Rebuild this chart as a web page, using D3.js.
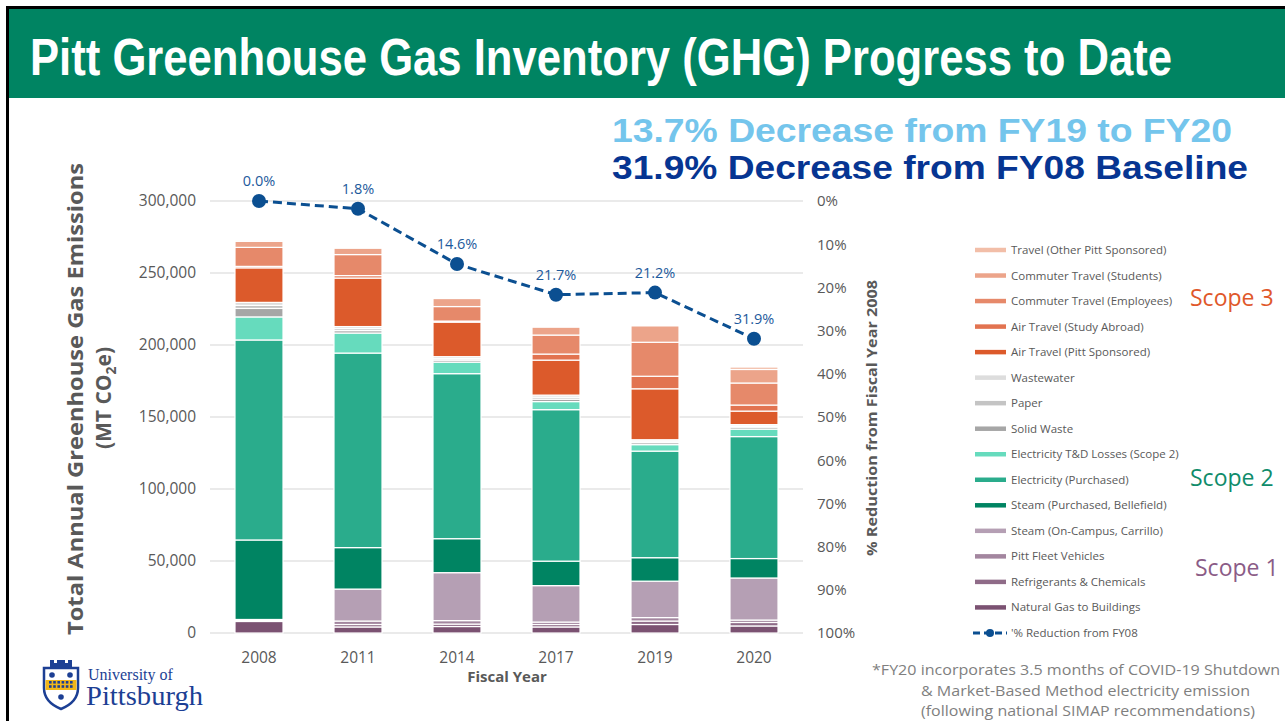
<!DOCTYPE html>
<html>
<head>
<meta charset="utf-8">
<script src="https://cdn.jsdelivr.net/npm/d3@7"></script>
<style>
  body { margin: 0; background: #fff; }
  svg { display: block; }
</style>
</head>
<body>
<svg id="chart" width="1285" height="721"></svg>
<script>
// Fiscal years on the x axis
const years = ['2008', '2011', '2014', '2017', '2019', '2020'];

// Emissions per source (MT CO2e), bottom of the stack first
const naturalGas        = [8000, 4200, 4500, 4200, 5900, 4900];
const refrigerants      = [700, 1700, 1700, 1700, 2400, 2400];
const fleetVehicles     = [700, 2400, 2400, 1700, 2400, 1700];
const steamCampus       = [0, 22200, 33300, 25300, 25300, 29200];
const steamPurchased    = [55200, 28800, 23600, 17000, 16300, 13500];
const electricity       = [138900, 135100, 114600, 105200, 74000, 84700];
const tdLosses          = [16000, 13900, 8000, 5600, 4500, 5200];
const solidWaste        = [5900, 1700, 1400, 1700, 1400, 1400];
const paper             = [2100, 1400, 1000, 1400, 1000, 700];
const wastewater        = [2100, 1400, 1400, 1400, 1000, 1000];
const airPitt           = [24000, 33700, 24000, 24300, 35400, 9400];
const airStudyAbroad    = [1000, 1700, 700, 4200, 8700, 4200];
const commuterEmployees = [13200, 14600, 10100, 13200, 23600, 15300];
const commuterStudents  = [4200, 4500, 5600, 5600, 11500, 9400];
const travelOther       = [300, 350, 350, 350, 350, 1700];

// % reduction from FY08 (line series)
const reduction = [0.0, 1.8, 14.6, 21.7, 21.2, 31.9];

// Series names, same order as the stack (bottom -> top)
const seriesNames = [
  'Natural Gas to Buildings', 'Refrigerants & Chemicals', 'Pitt Fleet Vehicles',
  'Steam (On-Campus, Carrillo)', 'Steam (Purchased, Bellefield)', 'Electricity (Purchased)',
  'Electricity T&D Losses (Scope 2)', 'Solid Waste', 'Paper', 'Wastewater',
  'Air Travel (Pitt Sponsored)', 'Air Travel (Study Abroad)', 'Commuter Travel (Employees)',
  'Commuter Travel (Students)', 'Travel (Other Pitt Sponsored)'
];
const seriesValues = [
  naturalGas, refrigerants, fleetVehicles, steamCampus, steamPurchased, electricity,
  tdLosses, solidWaste, paper, wastewater, airPitt, airStudyAbroad,
  commuterEmployees, commuterStudents, travelOther
];
const seriesColors = [
  '#7b5272', '#8f6b88', '#a3869f', '#b59fb4', '#008462', '#2aac8c',
  '#66dbbd', '#a6a6a6', '#c4c4c4', '#dddddd', '#dc5a2b', '#e27350',
  '#e6896a', '#eca48a', '#f2bea8'
];

const leftTicks = [0, 50000, 100000, 150000, 200000, 250000, 300000];
const rightTicks = [0, 10, 20, 30, 40, 50, 60, 70, 80, 90, 100];

// build the table for d3.stack
const table = years.map((y, i) => {
  const row = { year: y };
  seriesNames.forEach((name, k) => { row[name] = seriesValues[k][i]; });
  return row;
});

const svg = d3.select('#chart');
const axisColor = '#595959';
const font = "'Open Sans', 'Noto Sans', sans-serif";

// slide frame + title band
svg.append('rect').attr('x', 0).attr('y', 0).attr('width', 1285).attr('height', 721).attr('fill', '#fff');
svg.append('rect').attr('x', 9).attr('y', 9).attr('width', 1276).attr('height', 89).attr('fill', '#008462');
svg.append('line').attr('x1', 6).attr('x2', 1285).attr('y1', 7.5).attr('y2', 7.5).attr('stroke', '#000').attr('stroke-width', 3);
svg.append('line').attr('x1', 7.5).attr('x2', 7.5).attr('y1', 6).attr('y2', 721).attr('stroke', '#000').attr('stroke-width', 3);

svg.append('text')
  .attr('x', 30).attr('y', 75)
  .attr('font-family', "'Liberation Sans Narrow', 'Arial Narrow', sans-serif")
  .attr('font-weight', 'bold').attr('font-size', 52)
  .attr('fill', '#fff')
  .attr('textLength', 1142).attr('lengthAdjust', 'spacingAndGlyphs')
  .text('Pitt Greenhouse Gas Inventory (GHG) Progress to Date');

svg.append('text')
  .attr('x', 612).attr('y', 142)
  .attr('font-family', "'Liberation Sans', Arial, sans-serif")
  .attr('font-weight', 'bold').attr('font-size', 33)
  .attr('fill', '#74c5ec')
  .attr('textLength', 620).attr('lengthAdjust', 'spacingAndGlyphs')
  .text('13.7% Decrease from FY19 to FY20');

svg.append('text')
  .attr('x', 612).attr('y', 179)
  .attr('font-family', "'Liberation Sans', Arial, sans-serif")
  .attr('font-weight', 'bold').attr('font-size', 33)
  .attr('fill', '#063592')
  .attr('textLength', 636).attr('lengthAdjust', 'spacingAndGlyphs')
  .text('31.9% Decrease from FY08 Baseline');

// scales
const x = d3.scaleBand().domain(years).range([209.5, 803.5]).paddingInner(0.515).paddingOuter(0.2575);
const y = d3.scaleLinear().domain([0, 300000]).range([633, 201]);
const yPct = d3.scaleLinear().domain([0, 100]).range([201, 633]);

// gridlines
svg.append('g')
  .selectAll('line')
  .data(leftTicks)
  .join('line')
  .attr('x1', 210).attr('x2', 803)
  .attr('y1', d => y(d)).attr('y2', d => y(d))
  .attr('stroke', '#e3e3e3').attr('stroke-width', 1.3);

// left axis
const leftAxis = svg.append('g')
  .attr('transform', 'translate(196,0)')
  .call(d3.axisLeft(y).tickValues(leftTicks).tickSize(0).tickPadding(0).tickFormat(d3.format(',')));
leftAxis.select('.domain').remove();
leftAxis.selectAll('text').attr('font-family', font).attr('font-size', 15.5).attr('fill', axisColor);

// right axis
const rightAxis = svg.append('g')
  .attr('transform', 'translate(817,0)')
  .call(d3.axisRight(yPct).tickValues(rightTicks).tickSize(0).tickPadding(0).tickFormat(d => d + '%'));
rightAxis.select('.domain').remove();
rightAxis.selectAll('text').attr('font-family', font).attr('font-size', 15).attr('fill', axisColor);

// x axis
const xAxis = svg.append('g')
  .attr('transform', 'translate(0,648)')
  .call(d3.axisBottom(x).tickSize(0).tickPadding(0));
xAxis.select('.domain').remove();
xAxis.selectAll('text').attr('font-family', font).attr('font-size', 15.5).attr('fill', axisColor).attr('dy', '0.95em');

// axis titles
svg.append('text')
  .attr('transform', 'translate(83,399) rotate(-90)')
  .attr('text-anchor', 'middle')
  .attr('font-family', font).attr('font-weight', 'bold').attr('font-size', 21)
  .attr('fill', axisColor)
  .attr('textLength', 472).attr('lengthAdjust', 'spacingAndGlyphs')
  .text('Total Annual Greenhouse Gas Emissions');

const unit = svg.append('text')
  .attr('transform', 'translate(111,398) rotate(-90)')
  .attr('text-anchor', 'middle')
  .attr('font-family', font).attr('font-weight', 'bold').attr('font-size', 21)
  .attr('fill', axisColor);
unit.append('tspan').text('(MT CO');
unit.append('tspan').attr('font-size', 14).attr('dy', 5).text('2');
unit.append('tspan').attr('dy', -5).text('e)');

svg.append('text')
  .attr('transform', 'translate(877,418) rotate(-90)')
  .attr('text-anchor', 'middle')
  .attr('font-family', font).attr('font-weight', 'bold').attr('font-size', 14)
  .attr('fill', axisColor)
  .attr('textLength', 276).attr('lengthAdjust', 'spacingAndGlyphs')
  .text('% Reduction from Fiscal Year 2008');

svg.append('text')
  .attr('x', 507).attr('y', 682)
  .attr('text-anchor', 'middle')
  .attr('font-family', font).attr('font-weight', 'bold').attr('font-size', 15)
  .attr('fill', axisColor)
  .text('Fiscal Year');

// stacked bars
const stacked = d3.stack().keys(seriesNames)(table);

svg.append('g')
  .selectAll('g')
  .data(stacked)
  .join('g')
  .attr('fill', (d, i) => seriesColors[i])
  .selectAll('rect')
  .data(d => d)
  .join('rect')
  .attr('x', d => x(d.data.year))
  .attr('width', x.bandwidth())
  .attr('y', d => y(d[1]))
  .attr('height', d => y(d[0]) - y(d[1]))
  .attr('stroke', '#fff')
  .attr('stroke-width', 1.2);

// reduction line
const lineColor = '#0b4f91';
const pts = years.map((yr, i) => ({ year: yr, value: reduction[i] }));
const line = d3.line()
  .x(d => x(d.year) + x.bandwidth() / 2)
  .y(d => yPct(d.value));

svg.append('path')
  .datum(pts)
  .attr('d', line)
  .attr('fill', 'none')
  .attr('stroke', lineColor)
  .attr('stroke-width', 3)
  .attr('stroke-dasharray', '9,5');

svg.append('g')
  .selectAll('circle')
  .data(pts)
  .join('circle')
  .attr('cx', d => x(d.year) + x.bandwidth() / 2)
  .attr('cy', d => yPct(d.value))
  .attr('r', 7)
  .attr('fill', lineColor);

svg.append('g')
  .selectAll('text')
  .data(pts)
  .join('text')
  .attr('x', d => x(d.year) + x.bandwidth() / 2)
  .attr('y', d => yPct(d.value) - 15)
  .attr('text-anchor', 'middle')
  .attr('font-family', font).attr('font-size', 14.5)
  .attr('fill', '#1d5a9c')
  .text(d => d.value.toFixed(1) + '%');

// legend (top of stack first)
const legendItems = seriesNames.map((n, i) => ({ name: n, color: seriesColors[i] })).reverse();
const legendY = i => 250 + i * 25.53;

const legend = svg.append('g');
legend.selectAll('line')
  .data(legendItems)
  .join('line')
  .attr('x1', 975).attr('x2', 1006)
  .attr('y1', (d, i) => legendY(i)).attr('y2', (d, i) => legendY(i))
  .attr('stroke', d => d.color).attr('stroke-width', 4.5);

legend.selectAll('text')
  .data([...legendItems.map(d => d.name), "'% Reduction from FY08"])
  .join('text')
  .attr('x', 1011)
  .attr('y', (d, i) => legendY(i))
  .attr('dy', '0.35em')
  .attr('font-family', font).attr('font-size', 11.5)
  .attr('fill', axisColor)
  .text(d => d);

const lastY = legendY(legendItems.length);
legend.append('line')
  .attr('x1', 973).attr('x2', 1007)
  .attr('y1', lastY).attr('y2', lastY)
  .attr('stroke', lineColor).attr('stroke-width', 3)
  .attr('stroke-dasharray', '7,4');
legend.append('circle').attr('cx', 990).attr('cy', lastY).attr('r', 4).attr('fill', lineColor);

// scope labels
const scopes = [
  { text: 'Scope 3', x: 1190, y: 306, color: '#e0582a' },
  { text: 'Scope 2', x: 1190, y: 486, color: '#0f8c6b' },
  { text: 'Scope 1', x: 1195, y: 576, color: '#8b5c87' }
];
svg.append('g')
  .selectAll('text')
  .data(scopes)
  .join('text')
  .attr('x', d => d.x).attr('y', d => d.y)
  .attr('font-family', font).attr('font-size', 23)
  .attr('fill', d => d.color)
  .text(d => d.text);

// footnote
const notes = [
  { text: '*FY20 incorporates 3.5 months of COVID-19 Shutdown', x: 872, y: 675, w: 408 },
  { text: '& Market-Based Method electricity emission', x: 921, y: 696, w: 329 },
  { text: '(following national SIMAP recommendations)', x: 921, y: 716, w: 334 }
];
svg.append('g')
  .selectAll('text')
  .data(notes)
  .join('text')
  .attr('x', d => d.x).attr('y', d => d.y)
  .attr('font-family', font).attr('font-size', 14.5)
  .attr('fill', '#7f7f7f')
  .attr('textLength', d => d.w).attr('lengthAdjust', 'spacingAndGlyphs')
  .text(d => d.text);

// university logo
const logo = svg.append('g').attr('transform', 'translate(42,660)');
const pittBlue = '#1c3f94';
logo.append('path')
  .attr('d', 'M2,8 L36,8 L36,28 Q36,42 19,49 Q2,42 2,28 Z')
  .attr('fill', '#fff').attr('stroke', pittBlue).attr('stroke-width', 2.5);
logo.append('path')
  .attr('d', 'M8,0 h4 v3 h3 v-3 h8 v3 h3 v-3 h4 v8 h-22 Z')
  .attr('fill', pittBlue);
logo.append('rect').attr('x', 3.5).attr('y', 20).attr('width', 31).attr('height', 10).attr('fill', '#f2b619');
const checks = d3.range(0, 12);
logo.selectAll('rect.chk')
  .data(checks)
  .join('rect')
  .attr('class', 'chk')
  .attr('x', d => 7 + (d % 6) * 4.2)
  .attr('y', d => 21 + Math.floor(d / 6) * 4.2)
  .attr('width', 2.6).attr('height', 2.6)
  .attr('fill', pittBlue);
logo.selectAll('circle')
  .data([[10, 15], [28, 15], [19, 37]])
  .join('circle')
  .attr('cx', d => d[0]).attr('cy', d => d[1]).attr('r', 2.8)
  .attr('fill', pittBlue);

svg.append('text')
  .attr('x', 88).attr('y', 680)
  .attr('font-family', "'Liberation Serif', 'DejaVu Serif', serif")
  .attr('font-size', 16).attr('fill', pittBlue)
  .text('University of');
svg.append('text')
  .attr('x', 86).attr('y', 705)
  .attr('font-family', "'Liberation Serif', 'DejaVu Serif', serif")
  .attr('font-size', 27).attr('fill', pittBlue)
  .attr('textLength', 117).attr('lengthAdjust', 'spacingAndGlyphs')
  .text('Pittsburgh');
</script>
</body>
</html>
